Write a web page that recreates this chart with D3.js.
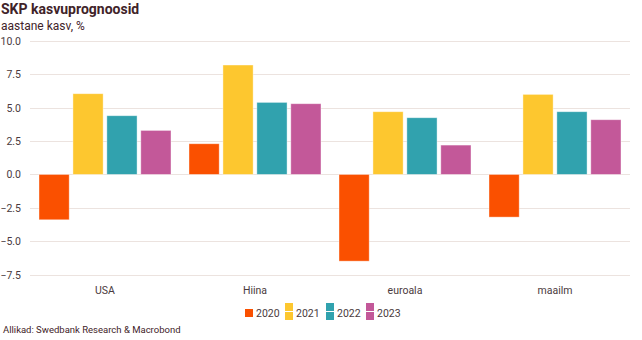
<!DOCTYPE html>
<html>
<head>
<meta charset="utf-8">
<script src="https://cdn.jsdelivr.net/npm/d3@7"></script>
<style>
  body { margin: 0; background: #fff; }
  svg { display: block; font-family: "Roboto", "Noto Sans", sans-serif; }
</style>
</head>
<body>
<div id="chart"></div>
<script>
// --- data ---
const categories = ["USA", "Hiina", "euroala", "maailm"];
const years = ["2020", "2021", "2022", "2023"];
const v2020 = [-3.4, 2.3, -6.5, -3.2];
const v2021 = [6.05, 8.2, 4.7, 6.0];
const v2022 = [4.4, 5.4, 4.25, 4.7];
const v2023 = [3.3, 5.3, 2.2, 4.1];
const yTicks = [-7.5, -5, -2.5, 0, 2.5, 5, 7.5, 10];
const colors = ["#fa5000", "#fdc72f", "#31a2ae", "#c35899"];

const series = [v2020, v2021, v2022, v2023];

const W = 642, H = 340;
const svg = d3.select("#chart").append("svg").attr("width", W).attr("height", H);

// title
svg.append("text").attr("x", 1).attr("y", 14)
  .attr("font-size", 14).attr("font-weight", 700).attr("fill", "#3f2329")
  .text("SKP kasvuprognoosid");
svg.append("text").attr("x", 1).attr("y", 30)
  .attr("font-size", 12).attr("fill", "#3f2329")
  .text("aastane kasv, %");

const x0 = d3.scaleBand().domain(categories).range([30, 630]).paddingInner(0.12).paddingOuter(0.06);
const x1 = d3.scaleBand().domain(years).range([0, x0.bandwidth()]).paddingInner(0.11);
const y = d3.scaleLinear().domain([-7.5, 10]).range([274.5, 41]);

// grid
svg.append("g").selectAll("line").data(yTicks).enter().append("line")
  .attr("x1", 30).attr("x2", 630)
  .attr("y1", d => Math.round(y(d)) + 0.5).attr("y2", d => Math.round(y(d)) + 0.5)
  .attr("stroke", "#ece3df").attr("stroke-width", 1);

// y labels
svg.append("g").selectAll("text").data(yTicks).enter().append("text")
  .attr("x", 21).attr("y", d => y(d) + 4)
  .attr("text-anchor", "end").attr("font-size", 10.5).attr("fill", "#4a3a3d")
  .text(d => d3.format(".1f")(d));

// bars
const groups = svg.append("g").selectAll("g").data(categories).enter().append("g")
  .attr("transform", d => `translate(${x0(d)},0)`);

groups.selectAll("rect")
  .data((c, i) => years.map((yr, j) => ({ yr, j, v: series[j][i] })))
  .enter().append("rect")
  .attr("x", d => x1(d.yr))
  .attr("width", x1.bandwidth())
  .attr("y", d => y(Math.max(0, d.v)))
  .attr("height", d => Math.abs(y(d.v) - y(0)))
  .attr("fill", d => colors[d.j])
  .attr("stroke", "#fff").attr("stroke-opacity", 0.5).attr("stroke-width", 0.8);

// category labels
svg.append("g").selectAll("text").data(categories).enter().append("text")
  .attr("x", d => x0(d) + x0.bandwidth() / 2).attr("y", 294)
  .attr("text-anchor", "middle").attr("font-size", 10.5).attr("fill", "#4a3a3d")
  .text(d => d);

// legend
const legX = [245, 285, 326, 366];
const leg = svg.append("g").selectAll("g").data(years).enter().append("g")
  .attr("transform", (d, i) => `translate(${legX[i]},0)`);
leg.each(function(d, i) {
  const g = d3.select(this);
  if (i === 0) {
    g.append("rect").attr("x", 0).attr("y", 309).attr("width", 8).attr("height", 8).attr("fill", colors[i]);
  } else {
    g.append("rect").attr("x", 0).attr("y", 303).attr("width", 8).attr("height", 8).attr("fill", colors[i]);
    g.append("rect").attr("x", 0).attr("y", 312).attr("width", 8).attr("height", 8).attr("fill", colors[i]);
  }
  g.append("text").attr("x", 11).attr("y", 317).attr("font-size", 10.5).attr("fill", "#4a3a3d").text(d);
});

// source
svg.append("text").attr("x", 3).attr("y", 333)
  .attr("font-size", 9.5).attr("fill", "#3f2329")
  .text("Allikad: Swedbank Research & Macrobond");
</script>
</body>
</html>
